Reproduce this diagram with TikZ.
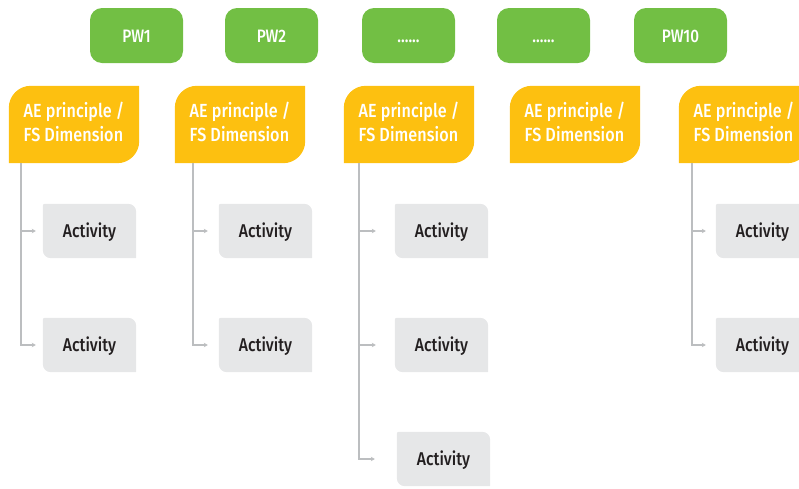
\documentclass[tikz,border=0pt]{standalone}
\usepackage{fontspec}
\setmainfont{Fira Sans}[FakeStretch=0.85, BoldFont={Fira Sans Medium}]
\usetikzlibrary{backgrounds,arrows.meta}
\definecolor{pwgreen}{HTML}{72BF44}
\definecolor{aeyellow}{HTML}{FDC010}
\definecolor{actgrey}{HTML}{E6E7E8}
\definecolor{linkgrey}{HTML}{BCBEC0}
\definecolor{ink}{HTML}{231F20}
\newcommand{\aedrop}{3}
\begin{document}
\begin{tikzpicture}[x=1pt,y=1pt,
  pw/.style={fill=pwgreen, rounded corners=12pt, minimum width=93pt, minimum height=55pt,
    inner sep=0pt, text height=13pt, text depth=0pt, text=white,
    font=\bfseries\fontsize{18}{20}\selectfont},
  ae/.style={minimum width=130pt, minimum height=77pt, inner sep=0pt,
    align=left, text=white, font=\bfseries\fontsize{19}{24}\selectfont\addfontfeature{LetterSpace=0.4}},
  act/.style={minimum width=93pt, minimum height=54pt, inner sep=0pt, text=ink,
    text height=13pt, text depth=0pt, font=\bfseries\fontsize{18.5}{20}\selectfont},
  link/.style={draw=linkgrey, line width=1.6pt, -{Stealth[length=4pt,width=4.5pt]}}
]
\useasboundingbox (0,0) rectangle (799,-488);

% programme weeks
\node[pw] (pw1) at (136.5,-35.5) {PW1};
\node[pw] (pw2) at (271.5,-35.5) {PW2};
\node[pw] (pw3) at (408.5,-35.5) {......};
\node[pw] (pw4) at (543.5,-35.5) {......};
\node[pw] (pw10) at (680.5,-35.5) {PW10};

% principle / dimension headers (text sits a little above the box centre)
\foreach \n/\x in {ae1/74, ae2/240, ae3/409, ae4/575, ae5/744}
  \node[ae] (\n) at (\x,-124.5+\aedrop) {AE principle /\\FS Dimension};

% activities
\node[act] (a11) at (89.5,-231) {Activity};
\node[act] (a12) at (89.5,-345) {Activity};
\node[act] (a21) at (265.5,-231) {Activity};
\node[act] (a22) at (265.5,-345) {Activity};
\node[act] (a31) at (441.5,-231) {Activity};
\node[act] (a32) at (441.5,-345) {Activity};
\node[act] (a33) at (443.5,-459) {Activity};
\node[act] (a51) at (762.5,-231) {Activity};
\node[act] (a52) at (762.5,-345) {Activity};

% shaped backgrounds
\begin{scope}[on background layer]
  \foreach \n in {ae1,ae2,ae3,ae4,ae5}
    \fill[aeyellow] ([yshift=-\aedrop]\n.north east) -- ([yshift=22-\aedrop]\n.south east) arc(0:-90:22)
      -- ([yshift=-\aedrop]\n.south west) -- ([yshift=-22-\aedrop]\n.north west) arc(180:90:22) -- cycle;
  \foreach \n in {a11,a12,a21,a22,a31,a32,a33,a51,a52}
    \fill[actgrey] (\n.south east) -- ([xshift=8]\n.south west) arc(270:180:8)
      -- ([yshift=-2]\n.north west) arc(180:90:2)
      -- ([xshift=-8]\n.north east) arc(90:0:8) -- cycle;
\end{scope}

% connectors
\draw[link, shorten >=7pt] ([xshift=12,yshift=-\aedrop]ae1.south west) |- (a12);
\draw[link, shorten >=7pt] ([xshift=12,yshift=-\aedrop]ae1.south west) |- (a11);
\draw[link, shorten >=11pt] ([xshift=18,yshift=-\aedrop]ae2.south west) |- (a22);
\draw[link, shorten >=11pt] ([xshift=18,yshift=-\aedrop]ae2.south west) |- (a21);
\draw[link, shorten >=22pt] ([xshift=15,yshift=-\aedrop]ae3.south west) |- (a33);
\draw[link, shorten >=19pt] ([xshift=15,yshift=-\aedrop]ae3.south west) |- (a32);
\draw[link, shorten >=19pt] ([xshift=15,yshift=-\aedrop]ae3.south west) |- (a31);
\draw[link, shorten >=10pt] ([xshift=13,yshift=-\aedrop]ae5.south west) |- (a52);
\draw[link, shorten >=10pt] ([xshift=13,yshift=-\aedrop]ae5.south west) |- (a51);
\end{tikzpicture}
\end{document}
